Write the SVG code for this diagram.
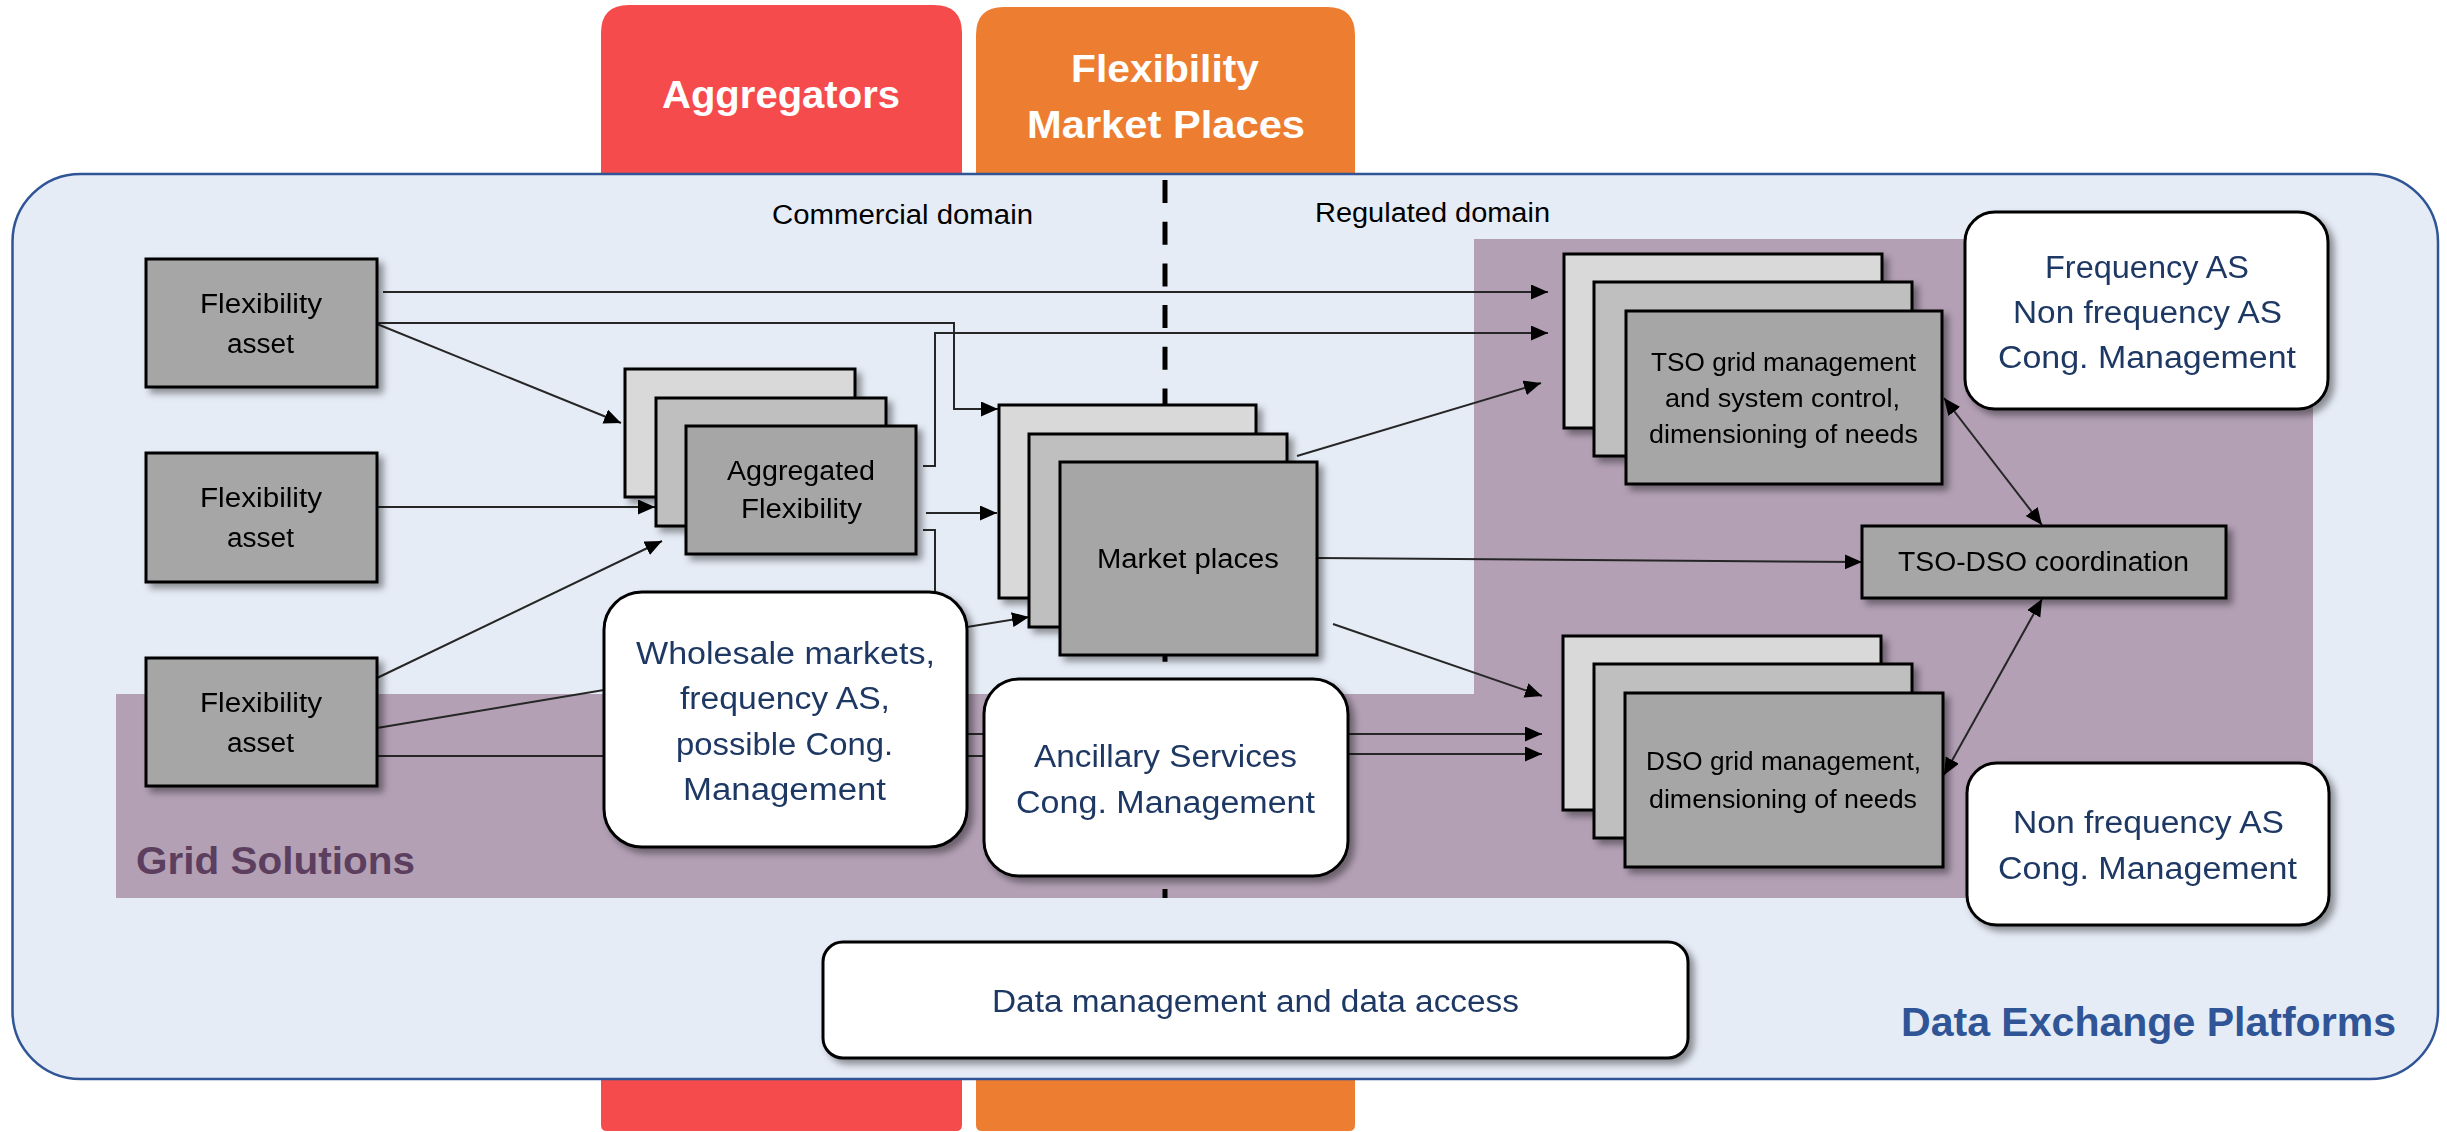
<svg xmlns="http://www.w3.org/2000/svg" width="2447" height="1132" viewBox="0 0 2447 1132">
<defs>
<style>
.t{font-family:"Liberation Sans",Arial,sans-serif;text-anchor:middle;fill:#000}
.s27{font-size:27px}
.s25{font-size:25px}
.nv{font-size:31px;fill:#1f3864}
.hd{font-size:39px;font-weight:bold;fill:#fff}
.c{stroke:#262626;stroke-width:2;fill:none}
.ca{stroke:#262626;stroke-width:2;fill:none;marker-end:url(#ah)}
.cd{stroke:#262626;stroke-width:2;fill:none;marker-end:url(#ah);marker-start:url(#ahs)}
.b1{fill:#d9d9d9;stroke:#000;stroke-width:3}
.b2{fill:#bfbfbf;stroke:#000;stroke-width:3}
.b3{fill:#a6a6a6;stroke:#000;stroke-width:3}
.wb{fill:#fff;stroke:#000;stroke-width:3}
</style>
<filter id="sh" x="-10%" y="-10%" width="130%" height="130%">
<feDropShadow dx="5" dy="5" stdDeviation="3.5" flood-color="#000" flood-opacity="0.4"/>
</filter>
<marker id="ah" markerUnits="userSpaceOnUse" markerWidth="18" markerHeight="16" refX="17" refY="7.5" orient="auto"><path d="M0,0 L17,7.5 L0,15 z" fill="#000"/></marker>
<marker id="ahs" markerUnits="userSpaceOnUse" markerWidth="18" markerHeight="16" refX="17" refY="7.5" orient="auto-start-reverse"><path d="M0,0 L17,7.5 L0,15 z" fill="#000"/></marker>
</defs>
<rect x="0" y="0" width="2447" height="1132" fill="#fff"/>
<!-- columns -->
<g id="col-aggregators">
<path d="M601,1131 V33 Q601,5 629,5 H934 Q962,5 962,33 V1125 Q962,1131 956,1131 H607 Q601,1131 601,1125 Z" fill="#f54b4d"/>
</g>
<g id="col-flexmarket">
<path d="M976,1131 V35 Q976,7 1004,7 H1327 Q1355,7 1355,35 V1125 Q1355,1131 1349,1131 H982 Q976,1131 976,1125 Z" fill="#ed7d31"/>
</g>
<text class="t hd" x="781" y="108" textLength="238" lengthAdjust="spacingAndGlyphs">Aggregators</text>
<text class="t hd" x="1165" y="82" textLength="188" lengthAdjust="spacingAndGlyphs">Flexibility</text>
<text class="t hd" x="1166" y="138" textLength="278" lengthAdjust="spacingAndGlyphs">Market Places</text>
<!-- Data exchange platforms panel -->
<g id="data-exchange-platforms">
<rect x="12.5" y="174" width="2425.5" height="905" rx="68" ry="68" fill="#e6ecf6" stroke="#2f5597" stroke-width="2.5"/>
<text class="t" x="1901" y="1036" style="text-anchor:start;font-size:40px;font-weight:bold;fill:#2f5597" textLength="495" lengthAdjust="spacingAndGlyphs">Data Exchange Platforms</text>
</g>
<!-- grid solutions region -->
<g id="grid-solutions">
<path d="M116,694 H1474 V239 H2313 V898 H116 Z" fill="#b3a0b5"/>
<text class="t" x="136" y="874" style="text-anchor:start;font-size:39px;font-weight:bold;fill:#5c3f5e" textLength="279" lengthAdjust="spacingAndGlyphs">Grid Solutions</text>
</g>
<!-- domain divider -->
<line x1="1165" y1="180" x2="1165" y2="898" stroke="#000" stroke-width="5" stroke-dasharray="23 18.7"/>
<text class="t s27" x="902.5" y="224" textLength="261" lengthAdjust="spacingAndGlyphs">Commercial domain</text>
<text class="t s27" x="1432.5" y="222" textLength="235" lengthAdjust="spacingAndGlyphs">Regulated domain</text>
<!-- connectors -->
<g id="connectors">
<path class="ca" d="M383,292 H1548"/>
<path class="ca" d="M377,323 H954 V409 H998"/>
<path class="ca" d="M377,324 L621,423"/>
<path class="ca" d="M377,507 H655"/>
<path class="ca" d="M377,678 L662,541"/>
<path class="c" d="M377,728 L604,690"/>
<path class="c" d="M377,756 H604"/>
<path class="ca" d="M923,466 H935 V333 H1548"/>
<path class="ca" d="M926,513 H997"/>
<path class="c" d="M923,530 H935 V593"/>
<path class="ca" d="M967,627 L1029,617"/>
<path class="c" d="M967,734 H984"/>
<path class="c" d="M967,756 H984"/>
<path class="ca" d="M1349,734 H1542"/>
<path class="ca" d="M1349,754 H1542"/>
<path class="ca" d="M1297,456 L1541,383"/>
<path class="ca" d="M1317,558 L1862,562"/>
<path class="ca" d="M1333,624 L1542,696"/>
<path class="cd" d="M1944,398 L2042,525"/>
<path class="cd" d="M1944,775 L2042,599"/>
</g>
<!-- nodes -->
<g id="flex-asset-1" filter="url(#sh)">
<rect class="b3" x="146" y="259" width="231" height="128"/>
<text class="t s27" x="261" y="313" textLength="122" lengthAdjust="spacingAndGlyphs">Flexibility</text>
<text class="t s27" x="260.5" y="353" textLength="67" lengthAdjust="spacingAndGlyphs">asset</text>
</g>
<g id="flex-asset-2" filter="url(#sh)">
<rect class="b3" x="146" y="453" width="231" height="129"/>
<text class="t s27" x="261" y="507" textLength="122" lengthAdjust="spacingAndGlyphs">Flexibility</text>
<text class="t s27" x="260.5" y="547" textLength="67" lengthAdjust="spacingAndGlyphs">asset</text>
</g>
<g id="flex-asset-3" filter="url(#sh)">
<rect class="b3" x="146" y="658" width="231" height="128"/>
<text class="t s27" x="261" y="712" textLength="122" lengthAdjust="spacingAndGlyphs">Flexibility</text>
<text class="t s27" x="260.5" y="752" textLength="67" lengthAdjust="spacingAndGlyphs">asset</text>
</g>
<g id="aggregated-flexibility" filter="url(#sh)">
<rect class="b1" x="625" y="369" width="230" height="128"/>
<rect class="b2" x="656" y="398" width="230" height="128"/>
<rect class="b3" x="686" y="426" width="230" height="128"/>
<text class="t s27" x="801" y="480" textLength="148" lengthAdjust="spacingAndGlyphs">Aggregated</text>
<text class="t s27" x="801.5" y="518" textLength="121" lengthAdjust="spacingAndGlyphs">Flexibility</text>
</g>
<g id="market-places" filter="url(#sh)">
<rect class="b1" x="999" y="405" width="257" height="193"/>
<rect class="b2" x="1029" y="434" width="258" height="193"/>
<rect class="b3" x="1060" y="462" width="257" height="193"/>
<text class="t s27" x="1188" y="568" textLength="182" lengthAdjust="spacingAndGlyphs">Market places</text>
</g>
<g id="tso-grid-management" filter="url(#sh)">
<rect class="b1" x="1564" y="254" width="318" height="174"/>
<rect class="b2" x="1594" y="282" width="318" height="174"/>
<rect class="b3" x="1626" y="311" width="316" height="173"/>
<text class="t s25" x="1783.5" y="371" textLength="265" lengthAdjust="spacingAndGlyphs">TSO grid management</text>
<text class="t s25" x="1782.5" y="407" textLength="235" lengthAdjust="spacingAndGlyphs">and system control,</text>
<text class="t s25" x="1783.5" y="443" textLength="269" lengthAdjust="spacingAndGlyphs">dimensioning of needs</text>
</g>
<g id="dso-grid-management" filter="url(#sh)">
<rect class="b1" x="1563" y="636" width="318" height="174"/>
<rect class="b2" x="1594" y="664" width="318" height="174"/>
<rect class="b3" x="1625" y="693" width="318" height="174"/>
<text class="t s25" x="1783.5" y="770" textLength="275" lengthAdjust="spacingAndGlyphs">DSO grid management,</text>
<text class="t s25" x="1783" y="808" textLength="268" lengthAdjust="spacingAndGlyphs">dimensioning of needs</text>
</g>
<g id="tso-dso-coordination" filter="url(#sh)">
<rect class="b3" x="1862" y="526" width="364" height="72"/>
<text class="t s27" x="2043.5" y="571" textLength="291" lengthAdjust="spacingAndGlyphs">TSO-DSO coordination</text>
</g>
<g id="tso-services" filter="url(#sh)">
<rect class="wb" x="1965" y="212" width="363" height="197" rx="30" ry="30"/>
<text class="t nv" x="2147" y="278" textLength="204" lengthAdjust="spacingAndGlyphs">Frequency AS</text>
<text class="t nv" x="2147.5" y="323" textLength="269" lengthAdjust="spacingAndGlyphs">Non frequency AS</text>
<text class="t nv" x="2147" y="368" textLength="298" lengthAdjust="spacingAndGlyphs">Cong. Management</text>
</g>
<g id="dso-services" filter="url(#sh)">
<rect class="wb" x="1967" y="763" width="362" height="162" rx="30" ry="30"/>
<text class="t nv" x="2148.5" y="833" textLength="271" lengthAdjust="spacingAndGlyphs">Non frequency AS</text>
<text class="t nv" x="2147.5" y="879" textLength="299" lengthAdjust="spacingAndGlyphs">Cong. Management</text>
</g>
<g id="wholesale-markets" filter="url(#sh)">
<rect class="wb" x="604" y="592" width="363" height="255" rx="38" ry="38"/>
<text class="t nv" x="785.5" y="664" textLength="299" lengthAdjust="spacingAndGlyphs">Wholesale markets,</text>
<text class="t nv" x="785" y="709" textLength="210" lengthAdjust="spacingAndGlyphs">frequency AS,</text>
<text class="t nv" x="784.5" y="755" textLength="217" lengthAdjust="spacingAndGlyphs">possible Cong.</text>
<text class="t nv" x="784.5" y="800" textLength="203" lengthAdjust="spacingAndGlyphs">Management</text>
</g>
<g id="ancillary-services" filter="url(#sh)">
<rect class="wb" x="984" y="679" width="364" height="197" rx="35" ry="35"/>
<text class="t nv" x="1165.5" y="767" textLength="263" lengthAdjust="spacingAndGlyphs">Ancillary Services</text>
<text class="t nv" x="1165.5" y="813" textLength="299" lengthAdjust="spacingAndGlyphs">Cong. Management</text>
</g>
<g id="data-management" filter="url(#sh)">
<rect class="wb" x="823" y="942" width="865" height="116" rx="20" ry="20"/>
<text class="t nv" x="1255.5" y="1012" textLength="527" lengthAdjust="spacingAndGlyphs">Data management and data access</text>
</g>
</svg>
